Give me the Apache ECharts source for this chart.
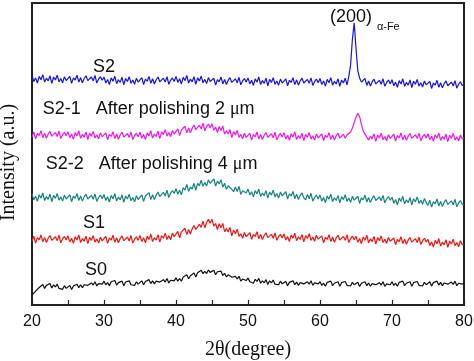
<!DOCTYPE html>
<html><head><meta charset="utf-8">
<script src="https://cdn.jsdelivr.net/npm/echarts@6/dist/echarts.min.js"></script>
<style>html,body{margin:0;padding:0;background:#fff}#c{width:474px;height:361px}</style>
</head><body><div id="c"></div>
<script>
// 2θ positions (degree), step 0.25
var angles = [
20,20.25,20.5,20.75,21,21.25,21.5,21.75,22,22.25,22.5,22.75,23,23.25,23.5,23.75,24,24.25,24.5,24.75,
25,25.25,25.5,25.75,26,26.25,26.5,26.75,27,27.25,27.5,27.75,28,28.25,28.5,28.75,29,29.25,29.5,29.75,
30,30.25,30.5,30.75,31,31.25,31.5,31.75,32,32.25,32.5,32.75,33,33.25,33.5,33.75,34,34.25,34.5,34.75,
35,35.25,35.5,35.75,36,36.25,36.5,36.75,37,37.25,37.5,37.75,38,38.25,38.5,38.75,39,39.25,39.5,39.75,
40,40.25,40.5,40.75,41,41.25,41.5,41.75,42,42.25,42.5,42.75,43,43.25,43.5,43.75,44,44.25,44.5,44.75,
45,45.25,45.5,45.75,46,46.25,46.5,46.75,47,47.25,47.5,47.75,48,48.25,48.5,48.75,49,49.25,49.5,49.75,
50,50.25,50.5,50.75,51,51.25,51.5,51.75,52,52.25,52.5,52.75,53,53.25,53.5,53.75,54,54.25,54.5,54.75,
55,55.25,55.5,55.75,56,56.25,56.5,56.75,57,57.25,57.5,57.75,58,58.25,58.5,58.75,59,59.25,59.5,59.75,
60,60.25,60.5,60.75,61,61.25,61.5,61.75,62,62.25,62.5,62.75,63,63.25,63.5,63.75,64,64.25,64.5,64.75,
65,65.25,65.5,65.75,66,66.25,66.5,66.75,67,67.25,67.5,67.75,68,68.25,68.5,68.75,69,69.25,69.5,69.75,
70,70.25,70.5,70.75,71,71.25,71.5,71.75,72,72.25,72.5,72.75,73,73.25,73.5,73.75,74,74.25,74.5,74.75,
75,75.25,75.5,75.75,76,76.25,76.5,76.75,77,77.25,77.5,77.75,78,78.25,78.5,78.75,79,79.25,79.5,79.75,
80];

var sS2 = [
76.0,74.0,75.2,73.5,75.7,74.6,76.3,73.8,75.1,74.2,75.9,73.4,75.5,74.5,76.1,73.9,75.0,73.6,75.6,74.3,
74.0,75.7,73.4,75.2,74.5,76.1,73.8,75.3,73.6,75.0,75.9,74.3,73.7,75.5,74.2,76.0,73.5,74.8,75.6,74.4,
75.5,73.5,74.7,73.0,75.2,74.1,75.8,73.3,74.6,73.7,75.4,72.9,75.0,74.0,75.6,73.4,74.5,73.1,75.1,73.8,
73.6,75.3,73.0,74.8,74.1,75.7,73.4,74.9,73.2,74.6,75.5,73.9,73.3,75.1,73.8,75.6,73.1,74.4,75.2,74.0,
75.7,73.7,74.9,73.2,75.4,74.3,76.0,73.5,74.8,73.9,75.6,73.1,75.2,74.2,75.8,73.6,74.7,73.3,75.3,74.0,
73.4,75.1,72.8,74.6,73.9,75.5,73.2,74.7,73.0,74.4,75.3,73.7,73.1,74.9,73.6,75.4,72.9,74.2,75.0,73.8,
75.2,73.2,74.4,72.7,74.9,73.8,75.5,73.0,74.3,73.4,75.1,72.6,74.7,73.7,75.3,73.1,74.2,72.8,74.8,73.5,
73.2,74.9,72.6,74.4,73.7,75.3,73.0,74.5,72.8,74.2,75.1,73.5,72.9,74.7,73.4,75.2,72.7,74.0,74.8,73.6,
75.0,73.0,74.2,72.5,74.7,73.6,75.3,72.8,74.1,73.2,74.9,72.4,74.5,73.5,75.1,72.9,75.6,79.5,88.0,93.4,
85.0,77.5,75.2,73.8,73.4,75.0,72.7,74.2,72.5,73.9,74.8,73.2,72.6,74.4,73.1,74.9,72.4,73.7,74.5,73.3,
74.6,72.6,73.8,72.1,74.3,73.2,74.9,72.4,73.7,72.8,74.5,72.0,74.1,73.1,74.7,72.5,73.6,72.2,74.2,72.9,
72.3,74.0,71.7,73.5,72.8,74.4,72.1,73.6,71.9,73.3,74.2,72.6,72.0,73.8,72.5,74.3,71.8,73.1,73.9,72.7,
72.8];

var sS21 = [
55.6,57.3,55.0,56.8,56.1,57.7,55.4,56.9,55.2,56.6,57.5,55.9,55.3,57.1,55.8,57.6,55.1,56.4,57.2,56.0,
57.4,55.4,56.6,54.9,57.1,56.0,57.7,55.2,56.5,55.6,57.3,54.8,56.9,55.9,57.5,55.3,56.4,55.0,57.0,55.7,
55.3,57.0,54.7,56.5,55.8,57.4,55.1,56.6,54.9,56.3,57.2,55.6,55.0,56.8,55.5,57.3,54.8,56.1,56.9,55.7,
57.2,55.2,56.5,54.8,57.0,56.0,57.7,55.3,56.6,55.8,57.6,55.1,57.3,56.4,58.1,55.9,57.1,55.8,57.8,56.6,
56.5,58.3,56.1,58.0,57.4,59.2,57.0,58.6,57.0,58.5,59.6,58.1,57.6,59.5,58.3,60.2,57.7,59.1,59.9,58.6,
60.0,57.9,58.9,57.1,59.1,57.8,59.3,56.6,57.7,56.6,58.1,55.4,57.4,56.3,57.8,55.5,56.5,55.0,56.9,55.5,
55.2,56.9,54.6,56.4,55.7,57.3,55.0,56.5,54.8,56.2,57.1,55.5,54.9,56.7,55.4,57.2,54.7,56.0,56.8,55.6,
57.0,55.0,56.2,54.5,56.7,55.6,57.3,54.8,56.1,55.2,56.9,54.4,56.5,55.5,57.1,54.9,56.0,54.6,56.6,55.3,
55.0,56.7,54.4,56.2,55.5,57.1,54.8,56.3,54.6,56.0,56.9,55.3,54.7,56.5,55.2,56.3,56.6,57.3,58.6,60.4,
62.2,63.5,62.4,59.8,57.6,56.6,57.1,54.6,55.9,55.0,56.7,54.2,56.3,55.3,56.9,54.7,55.8,54.4,56.4,55.1,
54.9,56.6,54.3,56.1,55.4,57.0,54.7,56.2,54.5,55.9,56.8,55.2,54.6,56.4,55.1,56.9,54.4,55.7,56.5,55.3,
56.7,54.7,55.9,54.2,56.4,55.3,57.0,54.5,55.8,54.9,56.6,54.1,56.2,55.2,56.8,54.6,55.7,54.3,56.3,55.0,
55.3];

var sS22 = [
36.8,34.8,36.0,34.3,36.5,35.4,37.1,34.6,35.9,35.0,36.7,34.2,36.3,35.3,36.9,34.7,35.8,34.4,36.4,35.1,
34.8,36.5,34.2,36.0,35.3,36.9,34.6,36.1,34.4,35.8,36.7,35.1,34.5,36.3,35.0,36.8,34.3,35.6,36.4,35.2,
36.6,34.6,35.8,34.1,36.3,35.2,36.9,34.4,35.7,34.8,36.5,34.0,36.1,35.1,36.7,34.5,35.6,34.2,36.2,34.9,
34.8,36.5,34.3,36.1,35.5,37.2,34.9,36.5,34.9,36.4,37.4,35.9,35.4,37.3,36.1,38.0,35.6,37.0,37.9,36.9,
38.5,36.7,38.0,36.5,38.9,38.0,39.9,37.6,39.1,38.4,40.3,38.0,40.3,39.5,41.3,39.3,40.6,39.4,41.5,40.3,
40.1,41.8,39.4,41.0,40.1,41.5,39.0,40.3,38.3,39.5,40.1,38.3,37.5,39.1,37.6,39.3,36.6,37.8,38.4,37.1,
38.4,36.4,37.5,35.8,37.9,36.8,38.4,35.9,37.1,36.2,37.9,35.4,37.4,36.4,38.0,35.8,36.9,35.4,37.4,36.1,
35.8,37.5,35.1,36.8,36.1,37.6,35.2,36.7,34.9,36.3,37.1,35.5,34.8,36.6,35.2,37.0,34.4,35.6,36.4,35.1,
36.4,34.4,35.6,33.9,36.1,35.0,36.7,34.2,35.5,34.6,36.3,33.8,35.9,34.9,36.5,34.3,35.4,34.0,36.0,34.7,
34.3,36.0,33.7,35.5,34.8,36.4,34.1,35.6,33.9,35.3,36.2,34.6,34.0,35.8,34.5,36.3,33.8,35.1,35.9,34.7,
35.7,33.7,34.9,33.2,35.4,34.3,36.0,33.5,34.8,33.9,35.6,33.1,35.2,34.2,35.8,33.6,34.7,33.3,35.3,34.0,
33.0,34.7,32.4,34.2,33.5,35.1,32.8,34.3,32.6,34.0,34.9,33.3,32.7,34.5,33.2,35.0,32.5,33.8,34.6,33.4,
33.2];

var sS1 = [
21.1,22.8,20.5,22.3,21.6,23.2,20.9,22.4,20.7,22.1,23.0,21.4,20.8,22.6,21.3,23.1,20.6,21.9,22.7,21.5,
22.9,20.9,22.1,20.4,22.6,21.5,23.2,20.7,22.0,21.1,22.8,20.3,22.4,21.4,23.0,20.8,21.9,20.5,22.5,21.2,
21.0,22.7,20.4,22.2,21.5,23.1,20.8,22.3,20.6,22.0,22.9,21.3,20.7,22.5,21.2,23.0,20.5,21.8,22.6,21.4,
23.0,21.0,22.3,20.6,22.8,21.7,23.5,21.0,22.3,21.5,23.3,20.8,23.0,22.1,23.8,21.7,22.9,21.6,23.8,22.6,
22.5,24.4,22.2,24.2,23.6,25.4,23.3,25.0,23.5,25.2,26.3,25.0,24.6,26.7,25.7,27.8,25.6,27.3,28.4,27.1,
28.4,26.1,27.0,25.0,26.9,25.6,27.0,24.3,25.3,24.2,25.7,22.9,24.8,23.6,25.1,22.7,23.6,22.1,24.0,22.6,
22.3,24.0,21.7,23.4,22.7,24.3,21.9,23.4,21.7,23.0,23.9,22.3,21.7,23.4,22.1,23.9,21.4,22.7,23.4,22.2,
23.5,21.5,22.7,21.0,23.2,22.1,23.8,21.3,22.6,21.7,23.4,20.9,23.0,22.0,23.6,21.4,22.5,21.1,23.1,21.8,
21.2,22.9,20.6,22.4,21.7,23.3,21.0,22.5,20.8,22.2,23.1,21.5,20.9,22.7,21.4,23.2,20.7,22.0,22.8,21.6,
22.8,20.8,22.0,20.3,22.5,21.4,23.1,20.6,21.9,21.0,22.7,20.2,22.3,21.3,22.9,20.7,21.8,20.4,22.4,21.1,
20.5,22.2,19.9,21.7,21.0,22.6,20.3,21.8,20.1,21.5,22.4,20.8,20.2,22.0,20.7,22.5,20.0,21.3,22.1,20.9,
21.7,19.7,20.9,19.2,21.4,20.3,22.0,19.5,20.8,19.9,21.6,19.1,21.2,20.2,21.8,19.6,20.7,19.3,21.3,20.0,
19.9];

var sS0 = [
3.3,3.4,4.6,4.1,5.8,5.5,6.8,5.5,6.5,6.0,7.1,5.6,6.7,6.0,6.9,5.5,6.1,5.2,6.4,5.5,
5.4,6.5,5.1,6.3,5.9,6.9,5.7,6.7,5.7,6.7,7.3,6.5,6.2,7.3,6.6,7.7,6.3,7.1,7.6,6.9,
7.9,6.7,7.4,6.4,7.7,7.1,8.1,6.6,7.4,6.8,7.9,6.4,7.6,7.0,8.0,6.7,7.3,6.5,7.7,6.9,
7.0,8.0,6.7,7.8,7.4,8.4,7.1,8.0,7.0,7.9,8.4,7.6,7.2,8.4,7.6,8.8,7.3,8.2,8.6,8.0,
9.0,7.9,8.7,7.9,9.3,8.9,10.0,8.7,9.7,9.3,10.6,9.3,10.7,10.3,11.5,10.4,11.1,10.4,11.6,10.8,
10.6,11.5,10.0,11.0,10.5,11.2,9.8,10.5,9.3,10.0,10.3,9.2,8.6,9.5,8.6,9.5,7.9,8.6,8.9,8.1,
8.9,7.7,8.3,7.2,8.5,7.8,8.8,7.2,8.0,7.3,8.4,6.8,8.0,7.3,8.3,6.9,7.5,6.7,7.9,7.0,
6.8,7.8,6.4,7.5,7.1,8.0,6.7,7.6,6.5,7.4,7.9,7.0,6.6,7.7,6.9,8.0,6.5,7.3,7.7,7.0,
7.7,6.5,7.2,6.2,7.5,6.9,7.9,6.4,7.2,6.6,7.7,6.2,7.4,6.8,7.8,6.5,7.1,6.3,7.5,6.7,
6.5,7.5,6.1,7.2,6.8,7.7,6.4,7.3,6.2,7.1,7.6,6.7,6.3,7.4,6.6,7.7,6.2,7.0,7.4,6.7,
7.7,6.5,7.2,6.2,7.5,6.9,7.9,6.4,7.2,6.6,7.7,6.2,7.4,6.8,7.8,6.5,7.1,6.3,7.5,6.7,
6.7,7.7,6.3,7.4,7.0,7.9,6.6,7.5,6.4,7.3,7.8,6.9,6.5,7.6,6.8,7.9,6.4,7.2,7.6,6.9,
7.2];

var xTicks = [20,30,40,50,60,70,80];

var seriesNames = ['S2','S2-1','S2-2','S1','S0'];
var seriesValues = [sS2, sS21, sS22, sS1, sS0];
var seriesColors = ['#1414f0','#f414f4','#14857f','#f41414','#111111'];

// label anchors in data coordinates [deg, intensity]
var labels = [
  {text:'S2', at:[30.0,78.9], align:'center', size:18},
  {text:'S2-1   After polishing 2 {mu|μ}m', at:[21.5,64.8], align:'left', size:18},
  {text:'S2-2   After polishing 4 {mu|μ}m', at:[21.9,46.7], align:'left', size:18},
  {text:'S1', at:[28.6,27.3], align:'center', size:18},
  {text:'S0', at:[28.9,11.5], align:'center', size:18},
  {text:'(200)', at:[61.4,95.2], align:'left', size:18},
  {text:'α-Fe', at:[67.9,92.0], align:'left', size:11}
];

function zip(xs, ys){ var o=[]; for(var i=0;i<xs.length;i++) o.push([xs[i], ys[i]]); return o; }

var chart = echarts.init(document.getElementById('c'), null, {renderer:'canvas'});
var frame = '#222';
var option = {
  animation:false,
  backgroundColor:'#fff',
  grid:{left:32, right:10, top:3, bottom:56, outerBoundsMode:'none', containLabel:false,
        show:true, borderColor:frame, borderWidth:2, backgroundColor:'transparent'},
  xAxis:[{
    type:'value', min:20, max:80, interval:10, position:'bottom',
    axisLine:{show:true, lineStyle:{color:frame, width:1.5}},
    axisTick:{show:true, inside:true, length:5, lineStyle:{color:frame, width:1.2}},
    minorTick:{show:true, splitNumber:2, length:5, lineStyle:{color:frame, width:1.2}},
    axisLabel:{color:'#111', fontSize:16, fontFamily:'Liberation Sans, Arial', margin:9,
      formatter:function(v){return xTicks.indexOf(v)>=0? String(v):'';}},
    splitLine:{show:false},
    name:'2θ(degree)', nameLocation:'middle', nameGap:35,
    nameTextStyle:{fontFamily:'Liberation Serif, Times New Roman', fontSize:20, color:'#111'}
  },{
    type:'value', min:20, max:80, position:'top',
    axisLine:{show:true, lineStyle:{color:frame, width:2}},
    axisTick:{show:false}, axisLabel:{show:false}, splitLine:{show:false}
  }],
  yAxis:[{
    type:'value', min:0, max:100, position:'left',
    axisLine:{show:true, lineStyle:{color:frame, width:1.5}},
    axisTick:{show:false}, axisLabel:{show:false}, splitLine:{show:false},
    name:'Intensity (a.u.)', nameLocation:'middle', nameGap:13,
    nameTextStyle:{fontFamily:'Liberation Serif, Times New Roman', fontSize:20, color:'#111', padding:[0,17,0,0]}
  },{
    type:'value', min:0, max:100, position:'right',
    axisLine:{show:true, lineStyle:{color:frame, width:1.5}},
    axisTick:{show:false}, axisLabel:{show:false}, splitLine:{show:false}
  }],
  series: seriesNames.map(function(n,i){
    return {name:n, type:'line', xAxisIndex:0, yAxisIndex:0, showSymbol:false, symbol:'none',
      data: zip(angles, seriesValues[i]),
      lineStyle:{color:seriesColors[i], width:1.2}, itemStyle:{color:seriesColors[i]}};
  })
};
chart.setOption(option);

var g = [];
labels.forEach(function(l){
  var p = chart.convertToPixel({xAxisIndex:0, yAxisIndex:0}, l.at);
  g.push({type:'text', x:p[0], y:p[1], z:10, style:{text:l.text, align:l.align, verticalAlign:'middle',
    fontFamily:'Liberation Sans, Arial', fontSize:l.size, fill:'#111',
    rich:{mu:{fontFamily:'Liberation Serif, Times New Roman', fontSize:l.size, fill:'#111'}}}});
});
chart.setOption({graphic:g});
</script>
</body></html>
